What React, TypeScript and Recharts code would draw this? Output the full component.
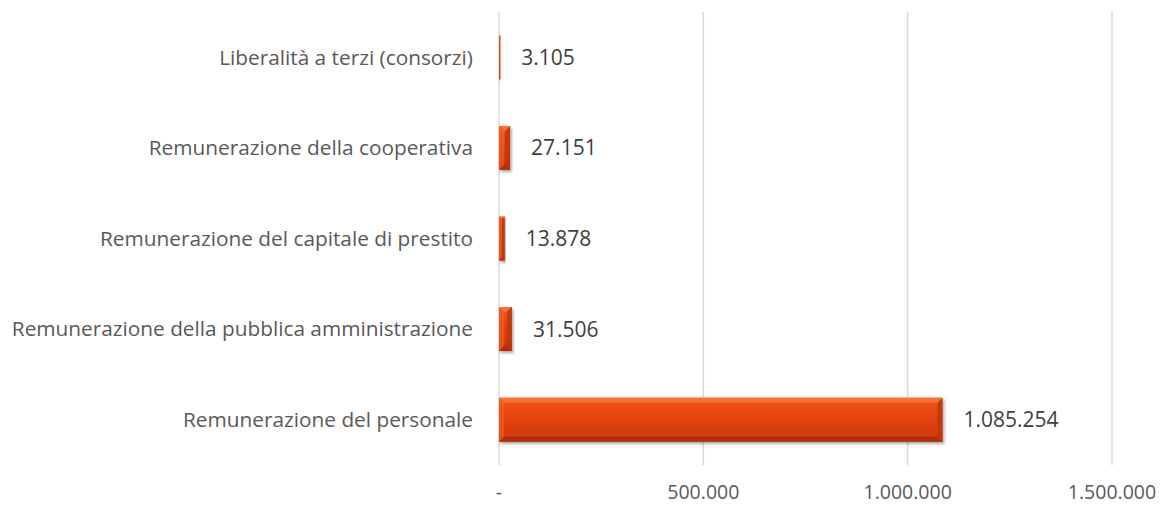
import React from "react";
import { BarChart, Bar, XAxis, YAxis, CartesianGrid, LabelList } from "recharts";

const categories = [
  "Liberalità a terzi (consorzi)",
  "Remunerazione della cooperativa",
  "Remunerazione del capitale di prestito",
  "Remunerazione della pubblica amministrazione",
  "Remunerazione del personale",
];
const values = [3105, 27151, 13878, 31506, 1085254];
const xTicks = [0, 500000, 1000000, 1500000];

const data = categories.map((name, i) => ({ name, value: values[i] }));

const fmt = (v: number) => (v === 0 ? "-" : v.toLocaleString("it-IT"));

// bevelled bar like the Excel preset
function BevelBar(props: any) {
  const { x, y, width, height } = props;
  if (width <= 0 || height <= 0) return null;
  const b = Math.min(5, width / 2);
  return (
    <g filter="url(#barShadow)">
      <rect x={x} y={y} width={width} height={height} fill="url(#barFill)" />
      <polygon points={`${x},${y} ${x + width},${y} ${x + width - b},${y + b} ${x + b},${y + b}`} fill="#ff7a3e" opacity={0.7} />
      <polygon points={`${x},${y + height} ${x + width},${y + height} ${x + width - b},${y + height - b} ${x + b},${y + height - b}`} fill="#a82c06" opacity={0.8} />
      <polygon points={`${x + width},${y} ${x + width},${y + height} ${x + width - b},${y + height - b} ${x + width - b},${y + b}`} fill="#b9360a" opacity={0.8} />
      <polygon points={`${x},${y} ${x},${y + height} ${x + b},${y + height - b} ${x + b},${y + b}`} fill="#f2612a" opacity={0.6} />
    </g>
  );
}

export default function App() {
  return (
    <div style={{ position: "absolute", left: 0, top: 0, background: "#fff" }}>
      <BarChart
        width={1160}
        height={506}
        data={data}
        layout="vertical"
        margin={{ top: 12, right: 48, bottom: 0, left: 0 }}
        barCategoryGap="25.7%"
        style={{ fontFamily: "'Open Sans', Lato, sans-serif" }}
      >
        <defs>
          <linearGradient id="barFill" x1="0" y1="0" x2="0" y2="1">
            <stop offset="0%" stopColor="#f4561c" />
            <stop offset="50%" stopColor="#e4420c" />
            <stop offset="100%" stopColor="#c9360a" />
          </linearGradient>
          <filter id="barShadow" x="-10%" y="-20%" width="130%" height="160%">
            <feDropShadow dx="1.5" dy="2" stdDeviation="1.5" floodColor="#000" floodOpacity="0.35" />
          </filter>
        </defs>
        <CartesianGrid horizontal={false} stroke="#d9d9d9" strokeWidth={1.5} />
        <XAxis
          type="number"
          domain={[0, 1500000]}
          ticks={xTicks}
          tickFormatter={fmt}
          axisLine={false}
          tickLine={false}
          tickSize={0}
          tickMargin={20}
          height={41}
          tick={{ fontSize: 19.5, fill: "#595959" }}
        />
        <YAxis
          type="category"
          dataKey="name"
          width={499}
          axisLine={false}
          tickLine={false}
          tickSize={0}
          tickMargin={26}
          interval={0}
          tick={{ fontSize: 20.8, fill: "#595959" }}
        />
        <Bar dataKey="value" shape={<BevelBar />} isAnimationActive={false}>
          <LabelList dataKey="value" position="right" offset={21} formatter={fmt as any} style={{ fontSize: 21, fill: "#404040" }} />
        </Bar>
      </BarChart>
    </div>
  );
}
